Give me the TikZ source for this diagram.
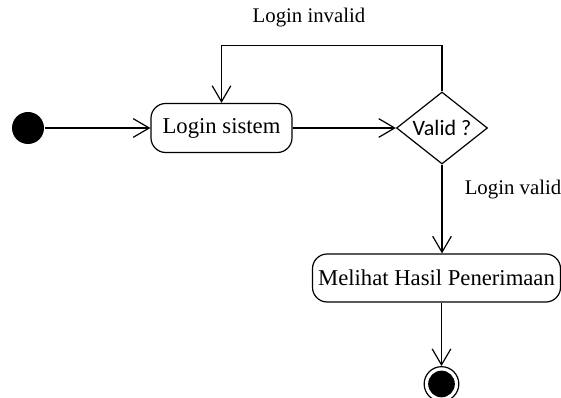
\documentclass[tikz,border=0pt]{standalone}
\usepackage{fontspec}
\setmainfont{Liberation Serif}
\newfontfamily\calibri{Carlito}
\usetikzlibrary{shapes.geometric}
\usetikzlibrary{arrows.meta}

\begin{document}
\begin{tikzpicture}[x=0.75pt, y=-0.75pt, line width=0.9pt,
        	aktivitas/.style={draw, rounded corners=11pt, inner sep=0pt, font=\fontsize{17}{20}\selectfont},
        	panah/.style={-{Straight Barb[length=12pt, width=14pt]}},
        	keterangan/.style={font=\fontsize{15.6}{18}\selectfont}]
        	\useasboundingbox (0,0) rectangle (561,398);
        	\node[circle, fill=black, inner sep=0pt, minimum size=24pt] (A) at (28,128) {};
        	\node[aktivitas, minimum width=105.75pt, minimum height=36.75pt] (B) at (221.5,128) {Login sistem};
        	\node[diamond, draw, inner sep=0pt, aspect=1.26, minimum width=68.25pt, minimum height=54pt] (C) at (442,128) {\fontsize{16.5}{20}\calibri Valid ?};
        	\node[aktivitas, minimum width=186pt, minimum height=36pt] (D) at (436.5,278) {Melihat Hasil Penerimaan};
        	\node[circle, draw, inner sep=0pt, minimum size=26pt] (E) at (441.5,384) {};
        	\node[circle, fill=black, inner sep=0pt, minimum size=20pt] (F) at (E) {};
        	\node[keterangan] (G) at (309,18) {Login invalid};
        	\node[keterangan] (H) at (513,190) {Login valid};
        	\draw[panah] (A) -- (B);
        	\draw[panah] (B) -- (C);
        	\draw[panah] (C.north) -- ++(0,-46) -| (B.north);
        	\draw[panah] (C.south) -- (C.south |- D.north);
        	\draw[panah] (D.south -| E.north) -- (E.north);
\end{tikzpicture}
\end{document}
